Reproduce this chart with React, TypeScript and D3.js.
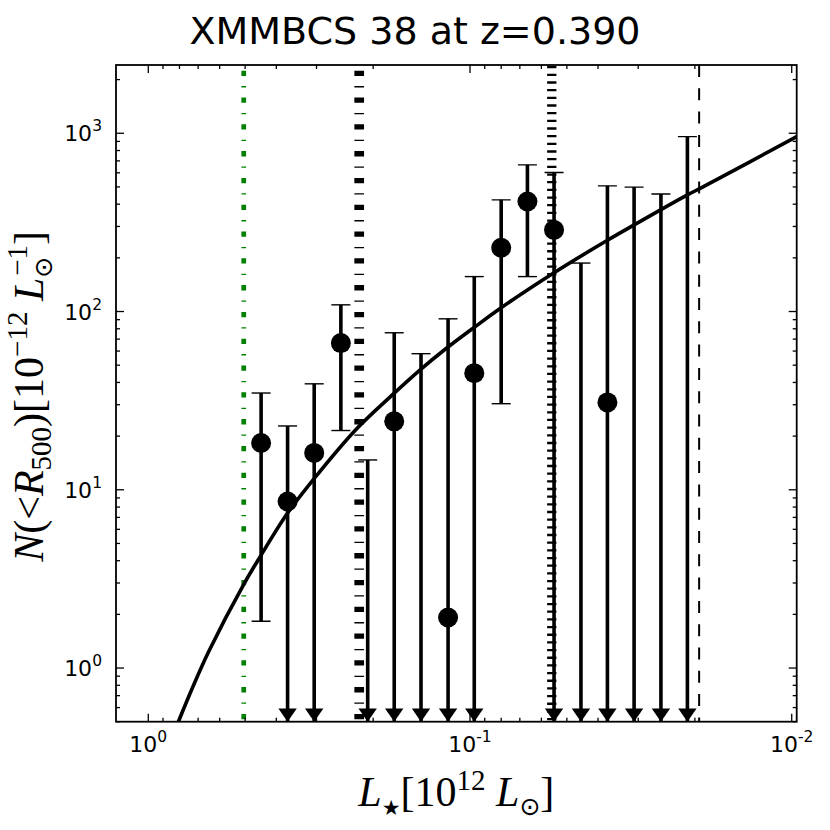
import * as d3 from "d3";

// luminosity bins (10^12 Lsun)
const lum = [0.446, 0.369, 0.305, 0.252, 0.208, 0.172, 0.142, 0.117, 0.097, 0.080, 0.0663, 0.0548, 0.0452, 0.0374, 0.0309, 0.0255, 0.0211];
// measured counts (null = point below the plot)
const counts: (number | null)[] = [18.3, 8.6, 16.1, 66.5, null, 24.2, null, 1.92, 45.1, 228, 414, 287, null, 30.9, null, null, null];
const errHigh = [34.9, 22.8, 39.3, 109, 14.7, 76, 58, 91, 157, 423, 665, 602, 187, 507, 499, 456, 958];
// null = lower error runs off the axis (drawn as arrow)
const errLow: (number | null)[] = [1.83, null, null, 21.5, null, null, null, null, null, 30.4, 157, null, null, null, null, null, null];

// fitted luminosity function
const fitL = [0.83, 0.81, 0.73, 0.65, 0.505, 0.446, 0.369, 0.307, 0.225, 0.173, 0.142, 0.12, 0.097, 0.08, 0.0548, 0.0374, 0.0309, 0.0211, 0.019, 0.00965];
const fitN = [0.44, 0.49, 0.77, 1.23, 2.95, 4.3, 7.4, 11.4, 22, 34.5, 47.5, 61, 81.5, 105, 165, 251, 306, 451, 497, 957];

// vertical reference lines
const refValues = [0.505, 0.221, 0.0557, 0.0194];

const xDomain = [1.26, 0.00965];
const yDomain = [0.5, 2415];

const title = "XMMBCS 38 at z=0.390";

const refStyles = [
  { color: "#008000", width: 4.7, dash: "5.3 10.1 1.3 10.1", offset: -5.7 },
  { color: "#000", width: 9.7, dash: "5.3 10.1 1.3 10.1", offset: -5.7 },
  { color: "#000", width: 9.3, dash: "2.3 5.37", offset: -1 },
  { color: "#000", width: 2, dash: "12 11.3", offset: 0 },
];

export default function App() {
  const W = 830;
  const H = 830;
  const margin = { top: 65, right: 33.3, bottom: 108.3, left: 116 };

  const x = d3.scaleLog().domain(xDomain).range([margin.left, W - margin.right]);
  const y = d3.scaleLog().domain(yDomain).range([H - margin.bottom, margin.top]);
  const [xl, xr] = x.range();
  const [yb, yt] = y.range();

  const isMajor = (v: number) => Math.abs(Math.log10(v) - Math.round(Math.log10(v))) < 1e-6;
  const xTicks = x.ticks();
  const yTicks = y.ticks();

  const curve = d3
    .line<number>()
    .x((d) => x(d))
    .y((_, i) => y(fitN[i]))
    .curve(d3.curveCatmullRom)(fitL);

  const fontSans = "DejaVu Sans, sans-serif";
  const fontSerif = "Liberation Serif, DejaVu Serif, serif";

  return (
    <div style={{ position: "absolute", left: 0, top: 0 }}>
      <svg width={W} height={H} style={{ display: "block", background: "#fff" }}>
        <defs>
          <clipPath id="plot">
            <rect x={xl} y={yt} width={xr - xl} height={yb - yt} />
          </clipPath>
        </defs>

        <text x={W / 2} y={44} textAnchor="middle" fontFamily={fontSans} fontSize={38}>
          {title}
        </text>

        <g clipPath="url(#plot)">
          {refValues.map((v, i) => (
            <line
              key={"ref" + i}
              x1={x(v)}
              x2={x(v)}
              y1={yt}
              y2={yb}
              stroke={refStyles[i].color}
              strokeWidth={refStyles[i].width}
              strokeDasharray={refStyles[i].dash}
              strokeDashoffset={refStyles[i].offset}
            />
          ))}

          <path d={curve ?? ""} fill="none" stroke="#000" strokeWidth={3.6} />

          {lum.map((L, i) => {
            const cx = x(L);
            const top = y(errHigh[i]);
            const low = errLow[i];
            const bottom = low === null ? yb : y(low);
            return (
              <g key={"pt" + i}>
                <line x1={cx} x2={cx} y1={top} y2={bottom} stroke="#000" strokeWidth={3.6} />
                <line x1={cx - 9.5} x2={cx + 9.5} y1={top} y2={top} stroke="#000" strokeWidth={1.4} />
                {low !== null ? (
                  <line x1={cx - 9.5} x2={cx + 9.5} y1={bottom} y2={bottom} stroke="#000" strokeWidth={1.4} />
                ) : (
                  <path d={`M${cx - 9.2},${yb - 13.3}L${cx + 9.2},${yb - 13.3}L${cx},${yb}Z`} fill="#000" />
                )}
                {counts[i] !== null && <circle cx={cx} cy={y(counts[i] as number)} r={10} fill="#000" />}
              </g>
            );
          })}
        </g>

        {/* ticks, mirrored on all sides, pointing in */}
        <g stroke="#000" strokeWidth={1.3}>
          {xTicks.map((t, i) => {
            const len = isMajor(t) ? 8 : 4;
            const px = x(t);
            return (
              <g key={"xt" + i}>
                <line x1={px} x2={px} y1={yb} y2={yb - len} />
                <line x1={px} x2={px} y1={yt} y2={yt + len} />
              </g>
            );
          })}
          {yTicks.map((t, i) => {
            const len = isMajor(t) ? 8 : 4;
            const py = y(t);
            return (
              <g key={"yt" + i}>
                <line x1={xl} x2={xl + len} y1={py} y2={py} />
                <line x1={xr} x2={xr - len} y1={py} y2={py} />
              </g>
            );
          })}
        </g>

        <rect x={xl} y={yt} width={xr - xl} height={yb - yt} fill="none" stroke="#000" strokeWidth={1.8} />

        {/* tick labels */}
        <g fontFamily={fontSans} fontSize={22}>
          {xTicks.filter(isMajor).map((t, i) => (
            <text key={"xl" + i} x={x(t)} y={752} textAnchor="middle">
              <tspan>10</tspan>
              <tspan fontSize={15.5} dy={-10}>{Math.round(Math.log10(t))}</tspan>
            </text>
          ))}
          {yTicks.filter(isMajor).map((t, i) => (
            <text key={"yl" + i} x={102} y={y(t) + 8} textAnchor="end">
              <tspan>10</tspan>
              <tspan fontSize={15.5} dy={-10}>{Math.round(Math.log10(t))}</tspan>
            </text>
          ))}
        </g>

        {/* axis labels */}
        <text x={(xl + xr) / 2} y={806} textAnchor="middle" fontFamily={fontSerif} fontSize={42}>
          <tspan fontStyle="italic">L</tspan>
          <tspan fontFamily={fontSans} fontSize={21} dy={9}>★</tspan>
          <tspan dy={-9}>[10</tspan>
          <tspan fontSize={29} dy={-16}>12</tspan>
          <tspan fontStyle="italic" dy={16}> L</tspan>
          <tspan fontFamily={fontSans} fontSize={25} dy={9}>⊙</tspan>
          <tspan dy={-9}>]</tspan>
        </text>

        <text
          transform={`translate(43,${(yb + yt) / 2 + 3}) rotate(-90)`}
          textAnchor="middle"
          fontFamily={fontSerif}
          fontSize={42}
        >
          <tspan fontStyle="italic">N</tspan>
          <tspan>(&lt;</tspan>
          <tspan fontStyle="italic">R</tspan>
          <tspan fontSize={29} dy={8}>500</tspan>
          <tspan dy={-8}>)[10</tspan>
          <tspan fontSize={29} dy={-16}>−12</tspan>
          <tspan fontStyle="italic" dy={16}> L</tspan>
          <tspan fontFamily={fontSans} fontSize={25} dy={9}>⊙</tspan>
          <tspan fontSize={29} dx={-19} dy={-25}>−1</tspan>
          <tspan dy={16}>]</tspan>
        </text>
      </svg>
    </div>
  );
}
